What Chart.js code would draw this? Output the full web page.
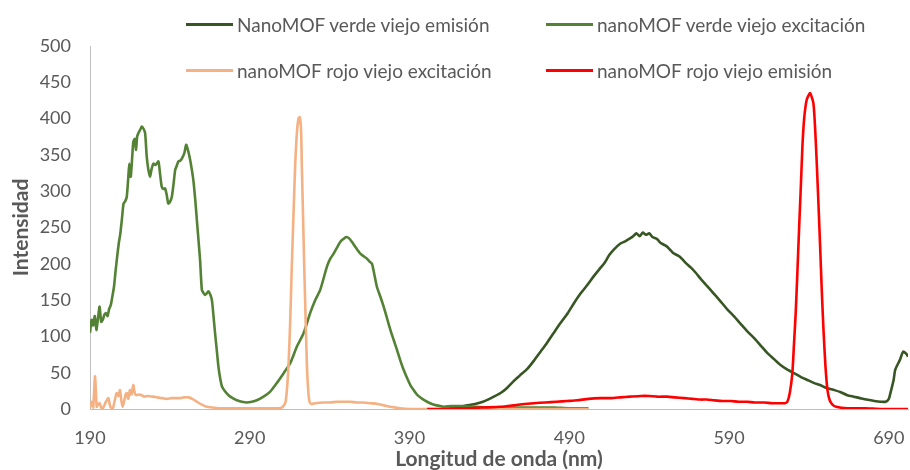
<!DOCTYPE html>
<html>
<head>
<meta charset="utf-8">
<script src="https://cdn.jsdelivr.net/npm/chart.js@4.4.0/dist/chart.umd.min.js"></script>
<style>
  body { margin: 0; background: #fff; font-family: Lato, sans-serif; }
  #wrap { position: relative; width: 910px; height: 470px; }
  .leg { position: absolute; display: flex; align-items: center; color: #595959; font-size: 19px; white-space: nowrap; }
  .leg span.ln { display: inline-block; width: 47px; height: 3px; margin-right: 4px; }
</style>
</head>
<body>
<div id="wrap">
  <canvas id="myCanvas" width="910" height="470"></canvas>
  <div id="legend"></div>
</div>
<script>
// series names / colours (legend order)
const seriesNames = [
  "NanoMOF verde viejo emisión",
  "nanoMOF verde viejo excitación",
  "nanoMOF rojo viejo excitación",
  "nanoMOF rojo viejo emisión"
];
const seriesColors = ["#375623", "#548235", "#F4B183", "#FF0000"];

// x axis tick labels
const xTicks = [190, 290, 390, 490, 590, 690];

// NanoMOF verde viejo emisión
const emVerdeX = [415,420,426,431,436,441,447,451,455,459,464,468,472,476,480,484,489,493,497,501,505,509,512,515,518,522,525,528,530,532,534,536,538,540,542,545,547,551,555,559,563,566,569,572,576,580,584,589,593,597,601,606,610,614,618,622,626,631,635,639,643,647,651,656,660,664,668,672,676,681,685,688,690,691,693,694,697,699,701,702];
const emVerdeY = [3,3,5,7,10,15,22,29,38,46,56,67,79,91,104,117,132,146,159,170,182,193,201,212,220,228,231,235,238,242,238,243,240,242,237,234,229,224,215,210,201,195,188,180,170,160,150,137,128,118,108,97,87,77,69,61,55,49,44,40,36,33,29,26,23,19,17,15,13,11,10,10,14,22,40,54,68,79,76,72];

// nanoMOF verde viejo excitación
const exVerdeX = [190,191,192,193,194,195,196,197,198,199,200,201,202,203,204,205,206,207,208,209,210,211,212,213,214,214.6,215.5,216.5,217.1,218,218.8,219.5,220.3,221.5,222.4,223.5,224.5,225.5,226.5,227.6,228.5,229.7,231,232.8,233.8,234.9,236,237,238,239,240,241.2,242.3,243.3,244.3,245.3,246.4,247.5,249,250.2,251.5,252.7,253.7,254.7,255.8,256.9,258,258.9,260,261,262,263,264.1,265.2,266.3,267.3,268.3,269.4,270.4,271.5,272.6,274.6,276.7,279.3,281.9,285,288.2,291.3,294.4,298.6,302.8,307,311.1,315.3,319.5,323.6,327.8,331,334.1,338.3,340.4,342.5,344.5,346.6,348.5,350.4,352.2,354,356.5,359.2,361.5,363.4,365,366.5,368,369.6,371.7,373.8,375.9,378,380.1,382.2,384.2,386.3,388.4,390.5,392.6,395,398,401,404,407,411.4,416,421.8,430,440,450,460,470,480,490,502];
const exVerdeY = [105,123,115,128,109,125,141,120,123,130,132,128,138,143,155,168,190,210,228,242,262,283,286,292,320,338,320,350,368,372,357,375,380,385,389,386,380,348,330,320,330,338,336,341,325,306,303,304,295,283,285,292,310,329,335,341,342,345,352,364,355,343,330,315,290,260,230,205,164,160,157,159,162,158,150,128,104,80,58,42,31,24,19,15,12,10,9,10,12,17,24,36,49,63,86,104,132,150,164,196,207,214,222,230,234,237,235,230,222,214,210,207,203,200,185,168,155,141,125,109,95,81,67,54,43,33,26,19,14,10,7,5,3,4,4,3,2,2,2,2,2,1,1];

// nanoMOF rojo viejo excitación
const exRojoX = [190,191,192,193.1,193.8,194.2,195,196,197,198,199,200,201.5,202.5,203.5,204.5,205.5,206.7,207.8,208.8,209.6,210.4,211.5,212.3,213,214,215,216,217.1,218,219.2,220.5,222.4,224,226,229.7,232,235,238,241,244,246.4,249,251.6,254,256.9,260,263.1,267,271.5,280,290,300,306,310,312.2,313.2,314.2,315.3,316.3,317.4,318.4,319.5,320.5,321.3,322.1,322.6,323.3,324.1,325,325.8,326.6,327.4,328.5,331,336.2,340,345,349,352.9,357,361,365.4,370,374,378,384,390.5,400,420,440,460,480,502];
const exRojoY = [3,10,2,45,20,3,6,8,2,1,5,10,15,5,1,2,12,22,18,26,12,3,12,20,22,14,26,20,33,22,19,20,19,17,18,17,16,15,14,15,15,15,16,16,14,10,6,3,2,1,1,1,1,1,2,8,25,58,120,196,270,334,380,400,402,385,334,270,196,120,58,25,10,7,8,9,9,10,10,10,9,9,8,7,5,3,1,0,0,0,0,0,0,0];

// nanoMOF rojo viejo emisión
const emRojoX = [401,410,420,426,435,446.9,455,462,467.7,475,482,488.7,495,502,509.5,516,522,528,534.6,540,545,551.3,556,562,567,572.2,576,580.5,586,591,596,601.4,606,612,617,622.3,625,626.5,628,629.6,630.6,631.7,632.8,633.8,634.9,635.9,637,638.6,640.7,642.8,643.9,644.9,646,647,648,649.1,650.3,651.6,653,654.7,657,664.1,675,685,695,703];
const emRojoY = [0,0,1,1,2,3,5,7,8,9,10,11,12,14,15,15,16,17,18,18,17,17,16,15,14,13,13,12,11,11,10,10,9,9,8,8,8,10,22,49,88,132,190,247,305,361,400,426,435,421,385,338,280,224,165,109,60,26,12,6,3,1,1,0,0,0];

const seriesX = [emVerdeX, exVerdeX, exRojoX, emRojoX];
const seriesY = [emVerdeY, exVerdeY, exRojoY, emRojoY];
const drawOrder = [4, 3, 2, 1]; // red on top, like the original

const datasets = seriesNames.map((name, i) => ({
  label: name,
  data: seriesX[i].map((x, j) => ({x: x, y: seriesY[i][j]})),
  borderColor: seriesColors[i],
  backgroundColor: seriesColors[i],
  borderWidth: 2.6,
  pointRadius: 0,
  tension: 0.2,
  order: drawOrder[i]
}));

// legend as html, 2 x 2 like the excel one
const legendPos = [[186, 24], [546, 24], [186, 70], [546, 70]];
const legendEl = document.getElementById("legend");
seriesNames.forEach((name, i) => {
  const d = document.createElement("div");
  d.className = "leg";
  d.style.left = legendPos[i][0] + "px";
  d.style.top = (legendPos[i][1] - 12) + "px";
  d.style.height = "24px";
  d.innerHTML = '<span class="ln" style="background:' + seriesColors[i] + '"></span>' + name;
  legendEl.appendChild(d);
});

Chart.defaults.font.family = "Lato";
Chart.defaults.font.size = 18;
Chart.defaults.color = "#595959";

const ctx = document.getElementById("myCanvas").getContext("2d");
new Chart(ctx, {
  type: "line",
  data: { datasets: datasets },
  options: {
    responsive: false,
    animation: false,
    devicePixelRatio: 1,
    layout: { padding: { top: 46, right: 2, left: 0, bottom: 0 } },
    plugins: { legend: { display: false }, tooltip: { enabled: false } },
    scales: {
      x: {
        type: "linear",
        min: 190,
        max: 702,
        afterBuildTicks: (s) => { s.ticks = xTicks.map(v => ({value: v})); },
        afterFit: (s) => { s.height = 61; s.paddingLeft = 0; s.paddingRight = 0; },
        grid: { display: false, drawTicks: false },
        border: { display: true, color: "#BFBFBF", width: 1 },
        ticks: { padding: 18, autoSkip: false, maxRotation: 0 },
        title: {
          display: true,
          text: "Longitud de onda (nm)",
          font: { size: 21, weight: "bold", lineHeight: 1 },
          padding: { top: 0, bottom: 0 }
        }
      },
      y: {
        min: 0,
        max: 500,
        afterFit: (s) => { s.width = 90; },
        grid: { display: false, drawTicks: false },
        border: { display: true, color: "#BFBFBF", width: 1 },
        ticks: { stepSize: 50, padding: 19 },
        title: {
          display: true,
          text: "Intensidad",
          font: { size: 21, weight: "bold", lineHeight: 1 },
          padding: { top: 11, bottom: 0 }
        }
      }
    }
  }
});
</script>
</body>
</html>
